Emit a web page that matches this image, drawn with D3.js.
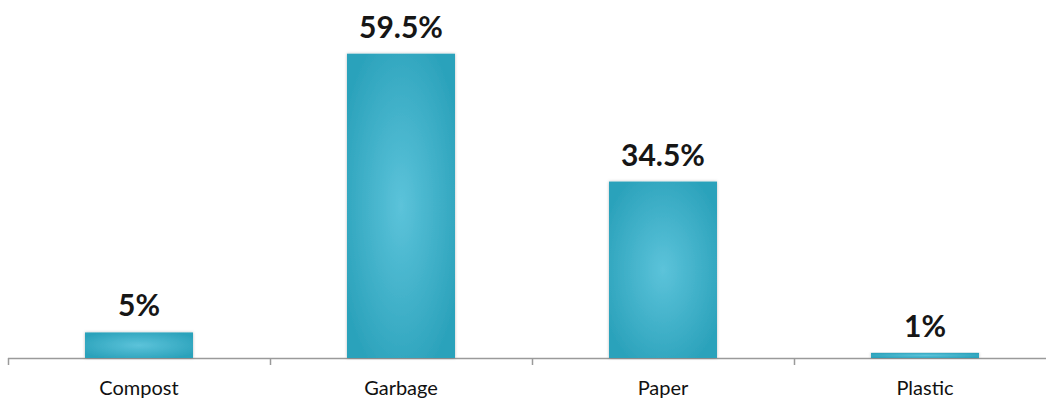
<!DOCTYPE html>
<html>
<head>
<meta charset="utf-8">
<script src="https://cdn.jsdelivr.net/npm/d3@7"></script>
<style>
  body { margin: 0; background: #fff; }
  svg { display: block; }
  .val { font-family: "Lato", "Open Sans", sans-serif; font-size: 30px; font-weight: 700; fill: #161616; }
  .cat { font-family: "Lato", "Open Sans", sans-serif; font-size: 20px; font-weight: 400; fill: #111; }
</style>
</head>
<body>
<div id="chart"></div>
<script>
// waste categories and their share (%)
var categories = ["Compost", "Garbage", "Paper", "Plastic"];
var values = [5, 59.5, 34.5, 1];
var valueLabels = ["5%", "59.5%", "34.5%", "1%"];

var svgWidth = 1046;
var svgHeight = 398;
var axisY = 358;

var svg = d3.select("#chart")
    .append("svg")
    .attr("width", svgWidth)
    .attr("height", svgHeight);

var defs = svg.append("defs");
var grad = defs.append("radialGradient")
    .attr("id", "barGrad")
    .attr("cx", "50%").attr("cy", "50%").attr("r", "60%");
grad.append("stop").attr("offset", "0%").attr("stop-color", "#5cc3da");
grad.append("stop").attr("offset", "100%").attr("stop-color", "#2ba2bb");

var shadow = defs.append("filter").attr("id", "shadow")
    .attr("x", "-10%").attr("y", "-10%").attr("width", "120%").attr("height", "120%");
shadow.append("feDropShadow")
    .attr("dx", 0).attr("dy", 0).attr("stdDeviation", 1.5)
    .attr("flood-color", "#000").attr("flood-opacity", 0.25);

// band scale runs past the right edge like in the original slide
var x = d3.scaleBand()
    .domain(categories)
    .range([8, 1056])
    .paddingInner(0)
    .paddingOuter(0);

var y = d3.scaleLinear()
    .domain([0, 70])
    .range([axisY, 0]);

var barWidth = 108;

// axis
var axis = svg.append("g")
    .attr("transform", `translate(0, ${axisY})`)
    .call(d3.axisBottom(x).tickSize(0).tickFormat(""));
axis.select(".domain").remove();
axis.append("line")
    .attr("x1", 8).attr("x2", 1056)
    .attr("y1", 0.5).attr("y2", 0.5)
    .attr("stroke", "#9a9a9a").attr("stroke-width", 1.5);

var boundaries = categories.map(c => x(c));
axis.selectAll(".sep")
    .data(boundaries)
    .enter()
    .append("line")
    .attr("class", "sep")
    .attr("x1", d => d + 0.5).attr("x2", d => d + 0.5)
    .attr("y1", 0).attr("y2", 7)
    .attr("stroke", "#9a9a9a").attr("stroke-width", 1.5);

// bars
svg.selectAll(".bar")
    .data(values)
    .enter()
    .append("rect")
    .attr("class", "bar")
    .attr("x", (d, i) => x(categories[i]) + x.bandwidth() / 2 - barWidth / 2)
    .attr("y", d => y(d))
    .attr("width", barWidth)
    .attr("height", d => axisY - y(d))
    .attr("fill", "url(#barGrad)")
    .attr("filter", "url(#shadow)");

// value labels
svg.selectAll(".val")
    .data(values)
    .enter()
    .append("text")
    .attr("class", "val")
    .attr("text-anchor", "middle")
    .attr("x", (d, i) => x(categories[i]) + x.bandwidth() / 2)
    .attr("y", d => y(d) - 16)
    .text((d, i) => valueLabels[i]);

// category labels
svg.selectAll(".cat")
    .data(categories)
    .enter()
    .append("text")
    .attr("class", "cat")
    .attr("text-anchor", "middle")
    .attr("x", d => x(d) + x.bandwidth() / 2)
    .attr("y", 395)
    .text(d => d);
</script>
</body>
</html>
